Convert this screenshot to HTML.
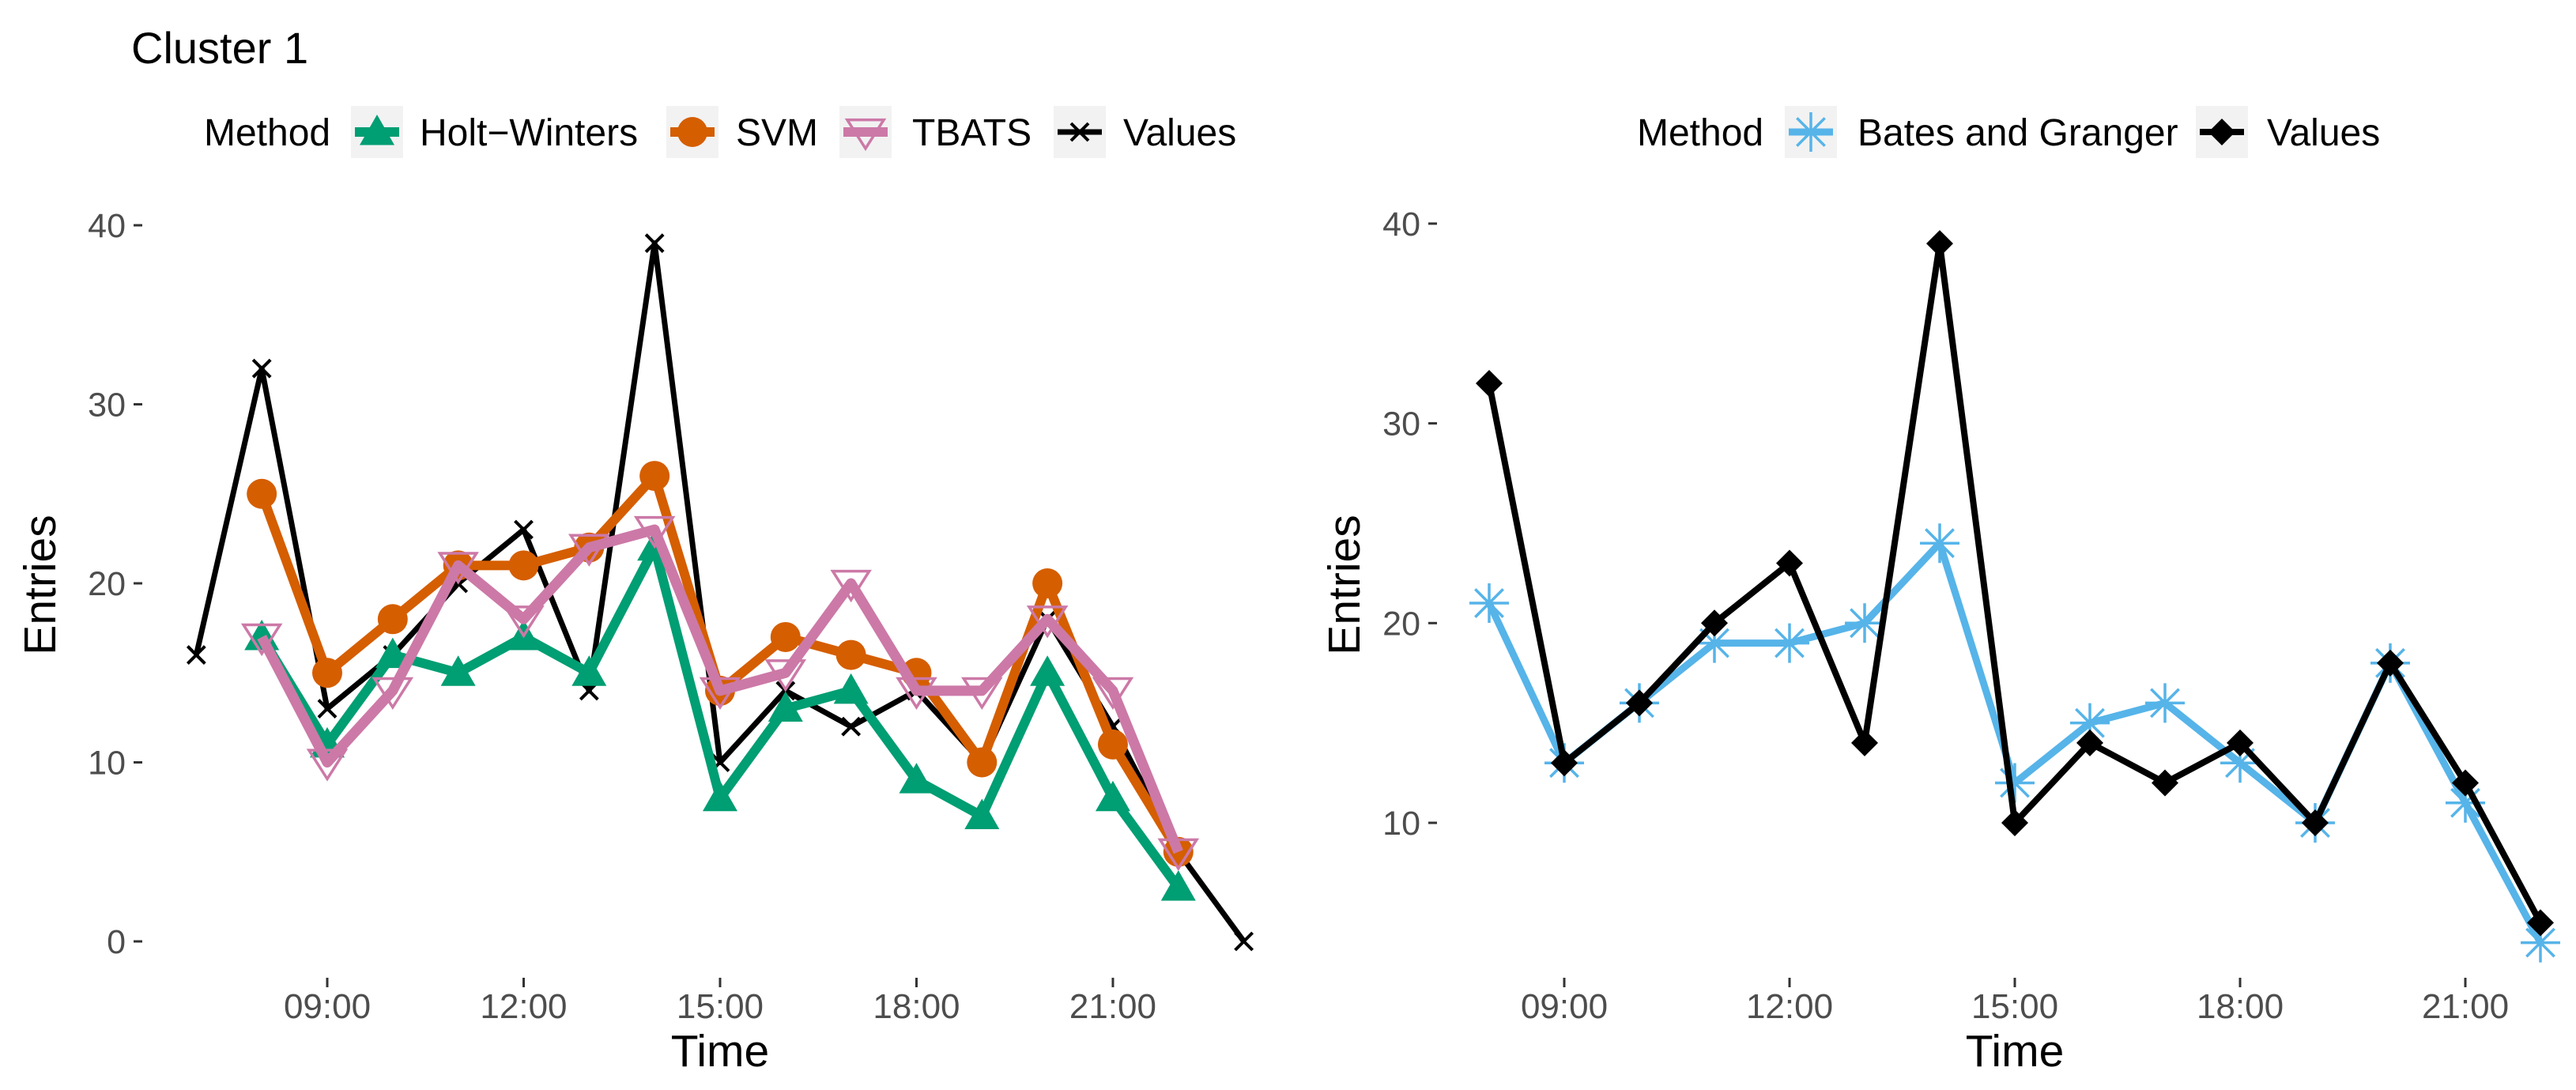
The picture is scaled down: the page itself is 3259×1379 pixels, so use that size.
<!DOCTYPE html>
<html><head><meta charset="utf-8"><style>
html,body{margin:0;padding:0;background:#fff}
svg{display:block}
text{font-family:"Liberation Sans",Arial,sans-serif}
</style></head><body>
<svg id="chart" width="3259" height="1379" viewBox="0 0 3259 1379" xmlns="http://www.w3.org/2000/svg">
<text x="166" y="80" font-size="56" fill="#000">Cluster 1</text>
<g id="left"></g>
<g id="right"></g>
</svg>
<script>
const hoursL = [7,8,9,10,11,12,13,14,15,16,17,18,19,20,21,22,23];
const valuesL = [16,32,13,16,20,23,14,39,10,14,12,14,10,18,12,5,0];
const hoursF = [8,9,10,11,12,13,14,15,16,17,18,19,20,21,22];
const holtWinters = [17,11,16,15,17,15,22,8,13,14,9,7,15,8,3];
const svm = [25,15,18,21,21,22,26,14,17,16,15,10,20,11,5];
const tbats = [17,10,14,21,18,22,23,14,15,20,14,14,18,14,5];
const valuesR = [32,13,16,20,23,14,39,10,14,12,14,10,18,12,5];
const batesGranger = [21,13,16,19,19,20,24,12,15,16,13,10,18,11,4];
const xTicks = [9,12,15,18,21];
const xTickLabels = ["09:00","12:00","15:00","18:00","21:00"];
const yTicksL = [0,10,20,30,40];
const yTicksR = [10,20,30,40];

const NS="http://www.w3.org/2000/svg";
function mk(parent,tag,attrs){const e=document.createElementNS(NS,tag);for(const k in attrs)e.setAttribute(k,attrs[k]);parent.appendChild(e);return e;}

const xL = h => 414 + (h-9)*82.83;
const yL = v => 1191 - v*22.65;
const xR = h => 1979 + (h-9)*95;
const yR = v => 1041 - (v-10)*25.27;

function axes(g,xs,ys,yTicks,tickX,yTitleX,titleX){
  yTicks.forEach(t=>{
    const l=mk(g,'line',{x1:tickX,x2:tickX+11,y1:ys(t),y2:ys(t),stroke:'#333','stroke-width':3});
    
    
    const tx=mk(g,'text',{x:tickX-10,y:ys(t)+15,'font-size':43,fill:'#4d4d4d','text-anchor':'end'});
    tx.textContent=t;
    
    
  });
  xTicks.forEach((t,i)=>{
    const l=mk(g,'line',{x1:xs(t),x2:xs(t),y1:1237,y2:1249,stroke:'#333','stroke-width':3});
    
    
    const tx=mk(g,'text',{x:xs(t),y:1288,'font-size':44,fill:'#4d4d4d','text-anchor':'middle'});
    tx.textContent=xTickLabels[i];
    
    
  });
  const xt=mk(g,'text',{x:titleX,y:1349,'font-size':57,fill:'#000','text-anchor':'middle'});
  xt.textContent='Time';
  
  
  const yt=mk(g,'text',{x:0,y:0,'font-size':57,fill:'#000','text-anchor':'middle',transform:`translate(${yTitleX},${740}) rotate(-90)`});
  yt.textContent='Entries';
  
  
}

function marker(g,type,cx,cy,color,scale){
  const s=scale||1;let e;
  if(type==='tri'){const r=22*s;e=mk(g,'polygon',{points:`${cx},${cy-r} ${cx+r*1.0},${cy+r*0.75} ${cx-r*1.0},${cy+r*0.75}`,fill:color});}
  else if(type==='circ'){e=mk(g,'circle',{cx,cy,r:19*s,fill:color});}
  else if(type==='dtri'){const r=22*s;e=mk(g,'polygon',{points:`${cx-r*1.05},${cy-r*0.7} ${cx+r*1.05},${cy-r*0.7} ${cx},${cy+r*0.95}`,fill:'none',stroke:color,'stroke-width':3.5});}
  else if(type==='x'){const r=11*s;e=mk(g,'path',{d:`M${cx-r},${cy-r}L${cx+r},${cy+r}M${cx+r},${cy-r}L${cx-r},${cy+r}`,stroke:color,'stroke-width':4});}
  else if(type==='diam'){const r=17*s;e=mk(g,'polygon',{points:`${cx},${cy-r} ${cx+r},${cy} ${cx},${cy+r} ${cx-r},${cy}`,fill:color});}
  else if(type==='ast'){const r=25*s;let d='';for(let a=0;a<4;a++){const an=a*Math.PI/4;d+=`M${cx-r*Math.cos(an)},${cy-r*Math.sin(an)}L${cx+r*Math.cos(an)},${cy+r*Math.sin(an)}`;}e=mk(g,'path',{d,stroke:color,'stroke-width':3.5,fill:'none'});}
  return e;
}

function series(g,xs,ys,hrs,vals,color,w,type,name){
  const sg=mk(g,'g',{});
  
  
  const p=mk(sg,'polyline',{points:hrs.map((h,i)=>xs(h)+','+ys(vals[i])).join(' '),fill:'none',stroke:color,'stroke-width':w,'stroke-linejoin':'round'});
  
  
  hrs.forEach((h,i)=>{
    const m=marker(sg,type,xs(h),ys(vals[i]),color);
    
    
  });
}

function legend(g,items,methodX){
  const t=mk(g,'text',{x:methodX,y:184,'font-size':48,fill:'#000'});
  t.textContent='Method';
  
  
  items.forEach(it=>{
    const eg=mk(g,'g',{});
    
    
    mk(eg,'rect',{x:it.kx,y:134,width:66,height:66,fill:'#f2f2f2'});
    mk(eg,'line',{x1:it.kx+5,x2:it.kx+61,y1:167,y2:167,stroke:it.color,'stroke-width':it.w});
    marker(eg,it.type,it.kx+33,167,it.color);
    const tx=mk(eg,'text',{x:it.tx,y:184,'font-size':48,fill:'#000'});
    tx.textContent=it.label;
  });
}

const L=document.getElementById('left');
axes(L,xL,yL,yTicksL,169,70,xL(15));
series(L,xL,yL,hoursL,valuesL,'#000',7,'x','values-left');
series(L,xL,yL,hoursF,holtWinters,'#009E73',12,'tri','holt-winters');
series(L,xL,yL,hoursF,svm,'#D55E00',12,'circ','svm');
series(L,xL,yL,hoursF,tbats,'#CC79A7',13,'dtri','tbats');
legend(L,[
 {kx:444,tx:531,label:'Holt\u2212Winters',color:'#009E73',w:12,type:'tri'},
 {kx:843,tx:931,label:'SVM',color:'#D55E00',w:12,type:'circ'},
 {kx:1062,tx:1154,label:'TBATS',color:'#CC79A7',w:12,type:'dtri'},
 {kx:1333,tx:1421,label:'Values',color:'#000',w:7,type:'x'}
],258);

const R=document.getElementById('right');
axes(R,xR,yR,yTicksR,1807,1720,xR(15));
series(R,xR,yR,hoursF,batesGranger,'#56B4E9',9,'ast','bates-granger');
series(R,xR,yR,hoursF,valuesR,'#000',8,'diam','values-right');
legend(R,[
 {kx:2258,tx:2350,label:'Bates and Granger',color:'#56B4E9',w:9,type:'ast'},
 {kx:2778,tx:2868,label:'Values',color:'#000',w:8,type:'diam'}
],2071);
</script>
</body></html>
